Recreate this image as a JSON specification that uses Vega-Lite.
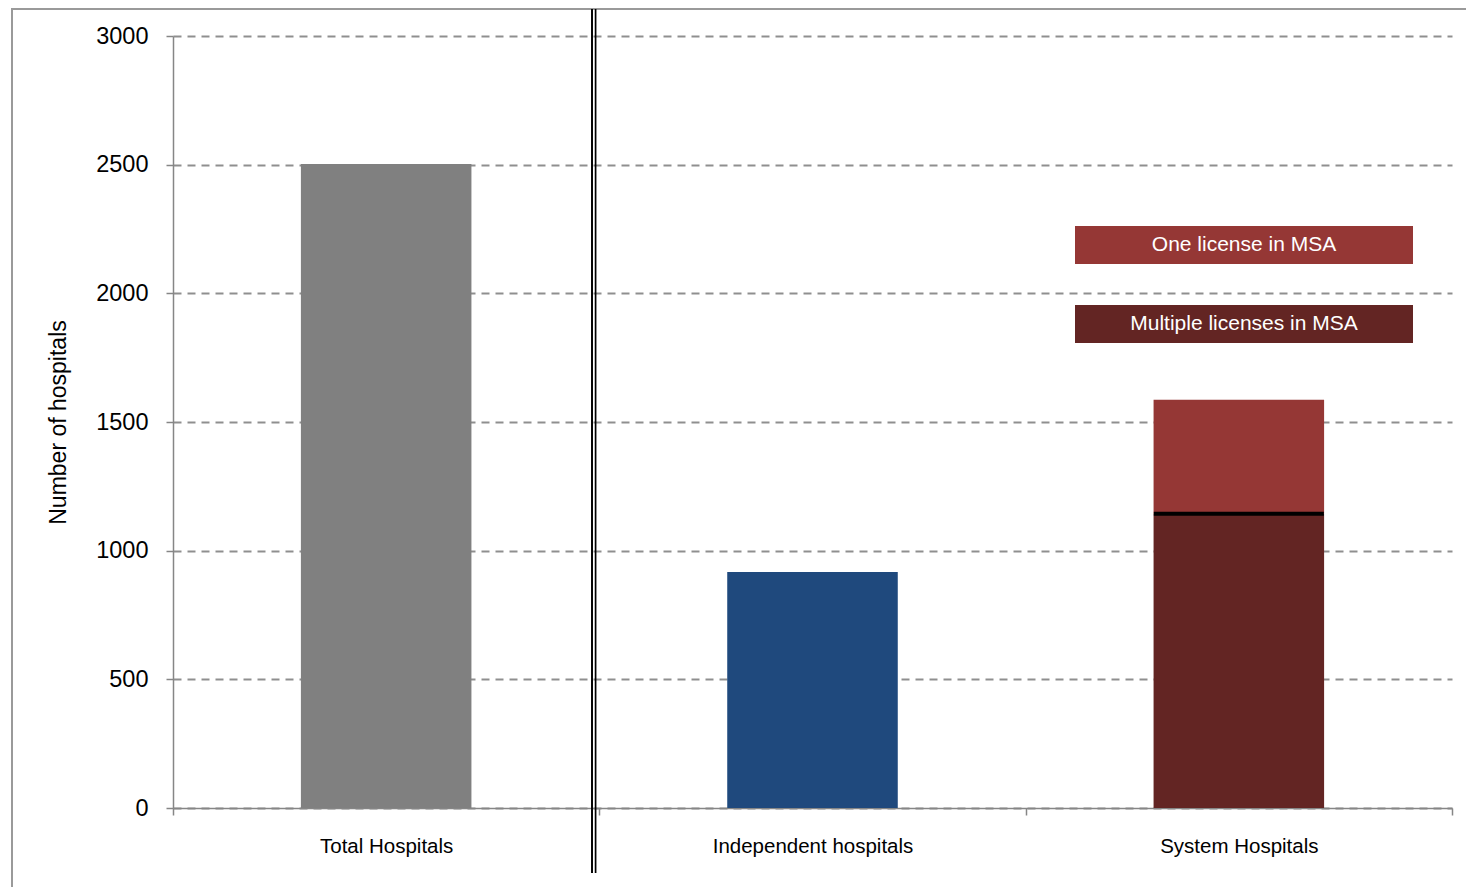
{
  "$schema": "https://vega.github.io/schema/vega-lite/v6.json",
  "width": 1470,
  "height": 890,
  "padding": {"left": 12, "top": 8, "right": 0, "bottom": 0},
  "background": "white",
  "config": {
    "view": {"stroke": "#9a9a9a", "strokeWidth": 2},
    "font": "Liberation Sans"
  },
  "data": {
    "values": [
      {"category": "Total Hospitals", "series": "Total hospitals", "count": 2503},
      {"category": "Independent hospitals", "series": "Independent hospitals", "count": 917},
      {"category": "System Hospitals", "series": "Multiple licenses in MSA", "count": 1143},
      {"category": "System Hospitals", "series": "One license in MSA", "count": 443}
    ]
  },
  "layer": [
    {
      "mark": {"type": "bar", "width": {"band": 0.4}},
      "encoding": {
        "x": {
          "field": "category",
          "type": "nominal",
          "scale": {
            "domain": ["Total Hospitals", "Independent hospitals", "System Hospitals"],
            "range": [161, 1440],
            "paddingInner": 0,
            "paddingOuter": 0
          },
          "axis": {
            "title": null,
            "orient": "bottom",
            "offset": -91,
            "tickBand": "extent",
            "labelAngle": 0,
            "labelFontSize": 20.5,
            "labelColor": "black",
            "labelPadding": 21,
            "labelLimit": 400,
            "tickSize": 7,
            "tickColor": "#868686",
            "tickWidth": 1.5,
            "domainColor": "#868686",
            "domainWidth": 1.5,
            "grid": false
          }
        },
        "y": {
          "field": "count",
          "type": "quantitative",
          "stack": "zero",
          "scale": {"domain": [0, 3000], "range": [799, 27], "nice": false},
          "axis": {
            "values": [0, 500, 1000, 1500, 2000, 2500, 3000],
            "format": "d",
            "offset": -161,
            "title": "Number of hospitals",
            "titleFontSize": 23,
            "titleFontWeight": "normal",
            "titleColor": "black",
            "titlePadding": 25,
            "labelFontSize": 23.5,
            "labelColor": "black",
            "labelPadding": 18,
            "tickSize": 7,
            "tickColor": "#868686",
            "tickWidth": 1.5,
            "domainColor": "#868686",
            "domainWidth": 1.5,
            "grid": true,
            "gridColor": "#8f8f8f",
            "gridDash": [8, 6],
            "gridWidth": 2
          }
        },
        "color": {
          "field": "series",
          "type": "nominal",
          "scale": {
            "domain": ["Total hospitals", "Independent hospitals", "One license in MSA", "Multiple licenses in MSA"],
            "range": ["#808080", "#1F497D", "#953735", "#632523"]
          },
          "legend": {
            "orient": "none",
            "legendX": 1063,
            "legendY": 217,
            "values": ["One license in MSA", "Multiple licenses in MSA"],
            "title": null,
            "symbolType": "M-1,-0.1124H1V0.1124H-1Z",
            "symbolSize": 114244,
            "symbolStrokeWidth": 0,
            "symbolOpacity": 1,
            "labelAlign": "center",
            "labelOffset": -169,
            "labelColor": "white",
            "labelFontSize": 21,
            "labelLimit": 500,
            "rowPadding": 41,
            "padding": 0,
            "encode": {
              "symbols": {"update": {"y": {"value": 19}}},
              "labels": {"update": {"y": {"value": 19}}}
            }
          }
        },
        "order": {"field": "series", "sort": "ascending"}
      }
    },
    {
      "transform": [{"filter": "datum.series === 'Multiple licenses in MSA'"}],
      "mark": {"type": "tick", "color": "black", "thickness": 4, "size": 170, "opacity": 1},
      "encoding": {
        "x": {"field": "category", "type": "nominal"},
        "y": {"field": "count", "type": "quantitative"}
      }
    },
    {
      "mark": {"type": "rule", "color": "black", "strokeWidth": 1.2, "xOffset": -7.3},
      "encoding": {
        "x": {"datum": "Total Hospitals", "type": "nominal", "bandPosition": 1},
        "y": {"datum": 3105, "type": "quantitative"},
        "y2": {"datum": -253}
      }
    },
    {
      "mark": {"type": "rule", "color": "black", "strokeWidth": 1.2, "xOffset": -3.8},
      "encoding": {
        "x": {"datum": "Total Hospitals", "type": "nominal", "bandPosition": 1},
        "y": {"datum": 3105, "type": "quantitative"},
        "y2": {"datum": -253}
      }
    }
  ]
}
